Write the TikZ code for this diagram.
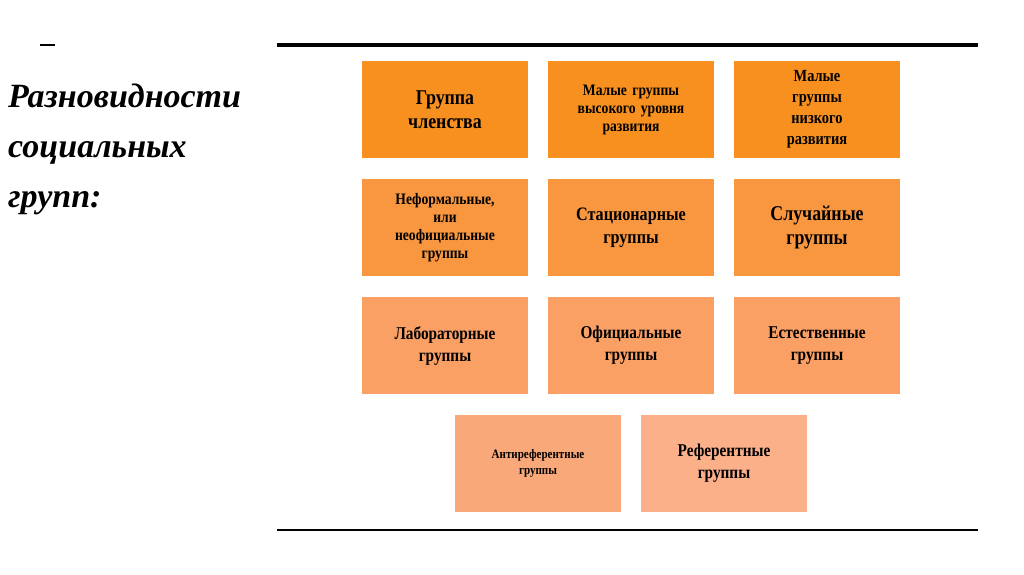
\documentclass[tikz,border=0pt]{standalone}
\usepackage{fontspec}
\setmainfont{Liberation Serif}
\newfontfamily\cond[FakeStretch=0.85]{Liberation Serif}
\definecolor{oa}{HTML}{F7901E}
\definecolor{ob}{HTML}{F99640}
\definecolor{oc}{HTML}{FAA064}
\definecolor{od}{HTML}{F9A87A}
\definecolor{oe}{HTML}{FBB08A}
\tikzset{bx/.style={inner sep=0pt,minimum width=166pt,minimum height=97pt,align=center,font=\cond\bfseries\fontsize{16}{18}\selectfont,text width=160pt},
big/.style={font=\cond\bfseries\fontsize{21}{24}\selectfont}}
\begin{document}
\begin{tikzpicture}[x=1pt,y=-1pt]
\useasboundingbox[fill=white] (0,0) rectangle (1024,574);
\draw[line width=4pt] (277,45) -- (978,45);
\draw[line width=2pt] (277,530) -- (978,530);
\draw[line width=1.5pt] (40,45) -- (55,45);
\node[anchor=north west,align=left,inner sep=0pt,font=\bfseries\itshape\fontsize{34}{50}\selectfont] (t) at (8,84) {Разновидности\\социальных\\групп:};
\node[bx,big,fill=oa] (a1) at (445,109.5) {Группа\\членства};
\node[bx,fill=oa] (a2) at (631,109.5) {Малые группы\\высокого уровня\\развития};
\node[bx,fill=oa,font=\cond\bfseries\fontsize{17}{21}\selectfont] (a3) at (817,109.5) {Малые\\группы\\низкого\\развития};
\node[bx,fill=ob] (b1) at (445,227.5) {Неформальные,\\или\\неофициальные\\группы};
\node[bx,fill=ob,font=\cond\bfseries\fontsize{19}{23}\selectfont] (b2) at (631,227.5) {Стационарные\\группы};
\node[bx,big,fill=ob] (b3) at (817,227.5) {Случайные\\группы};
\node[bx,fill=oc,font=\cond\bfseries\fontsize{18}{22}\selectfont] (c1) at (445,345.5) {Лабораторные\\группы};
\node[bx,fill=oc,font=\cond\bfseries\fontsize{18}{22}\selectfont] (c2) at (631,345.5) {Официальные\\группы};
\node[bx,fill=oc,font=\cond\bfseries\fontsize{18}{22}\selectfont] (c3) at (817,345.5) {Естественные\\группы};
\node[bx,fill=od,font=\cond\bfseries\fontsize{13}{16}\selectfont] (d1) at (538,463.5) {Антиреферентные\\группы};
\node[bx,fill=oe,font=\cond\bfseries\fontsize{18}{22}\selectfont] (d2) at (724,463.5) {Референтные\\группы};
\end{tikzpicture}
\end{document}
